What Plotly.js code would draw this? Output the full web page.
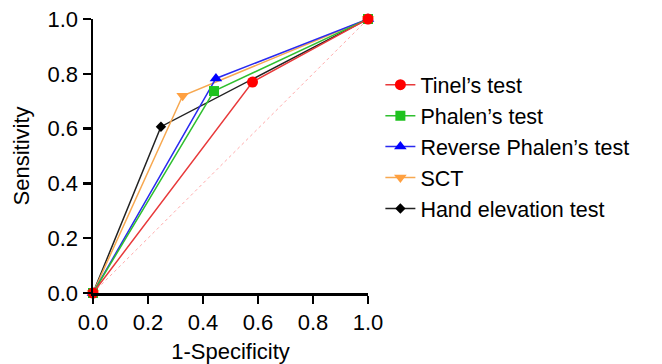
<!DOCTYPE html>
<html>
<head>
<meta charset="utf-8">
<script src="https://cdn.plot.ly/plotly-3.0.1.min.js"></script>
<style>html,body{margin:0;padding:0;background:#fff;}#chart{width:662px;height:364px;}</style>
</head>
<body>
<div id="chart"></div>
<script>
// Series names (legend order)
const seriesNames = ["Tinel\u2019s test", "Phalen\u2019s test", "Reverse Phalen\u2019s test", "SCT", "Hand elevation test"];
// 1-Specificity / Sensitivity of each ROC curve (start, test, end)
const tinelX = [0, 0.58, 1];
const tinelY = [0, 0.77, 1];
const phalenX = [0, 0.44, 1];
const phalenY = [0, 0.737, 1];
const revPhalenX = [0, 0.447, 1];
const revPhalenY = [0, 0.783, 1];
const sctX = [0, 0.326, 1];
const sctY = [0, 0.72, 1];
const handX = [0, 0.247, 1];
const handY = [0, 0.607, 1];
// Reference diagonal
const diagX = [0, 1];
const diagY = [0, 1];
// Tick values / labels
const tickVals = [0, 0.2, 0.4, 0.6, 0.8, 1.0];
const tickText = ["0.0", "0.2", "0.4", "0.6", "0.8", "1.0"];

const styles = [
  {color: "#ff0000", line: "#e8393a", symbol: "circle", size: 11},
  {color: "#1fc21f", line: "#2fbf2f", symbol: "square", size: 10},
  {color: "#0000ff", line: "#2a2af0", symbol: "triangle-up", size: 11},
  {color: "#ffa040", line: "#f7a850", symbol: "triangle-down", size: 11},
  {color: "#000000", line: "#222222", symbol: "diamond", size: 8}
];
const xs = [tinelX, phalenX, revPhalenX, sctX, handX];
const ys = [tinelY, phalenY, revPhalenY, sctY, handY];

const traces = [{
  x: diagX, y: diagY, mode: "lines", showlegend: false, hoverinfo: "skip",
  line: {color: "#ffaaaa", width: 1, dash: "dot"}, cliponaxis: false
}];
for (let i = seriesNames.length - 1; i >= 0; i--) {
  traces.push({
    x: xs[i], y: ys[i], name: seriesNames[i], mode: "lines+markers",
    line: {color: styles[i].line, width: 1.5},
    marker: {color: styles[i].color, symbol: styles[i].symbol, size: styles[i].size},
    cliponaxis: false
  });
}

const FONT = "Liberation Sans, Arial, sans-serif";
const axisCommon = {
  range: [0, 1], tickvals: tickVals, ticktext: tickText,
  showgrid: false, zeroline: false, showline: true, linecolor: "#000", linewidth: 2.5,
  ticks: "outside", ticklen: 8, tickwidth: 2.5, tickcolor: "#000",
  tickfont: {family: FONT, size: 22, color: "#000"},
  fixedrange: true
};

const layout = {
  width: 662, height: 364,
  margin: {l: 93, r: 294, t: 19, b: 71},
  paper_bgcolor: "#fff", plot_bgcolor: "#fff",
  font: {family: FONT, color: "#000"},
  xaxis: Object.assign({}, axisCommon, {
    title: {text: "1-Specificity", font: {size: 22}, standoff: 10}
  }),
  yaxis: Object.assign({}, axisCommon, {
    title: {text: "Sensitivity", font: {size: 22}, standoff: 12}
  }),
  legend: {
    x: 1.045, y: 0.835, xanchor: "left", yanchor: "top",
    traceorder: "reversed",
    font: {size: 21.5, color: "#000"},
    bgcolor: "rgba(0,0,0,0)", itemwidth: 30
  },
  showlegend: true
};

Plotly.newPlot("chart", traces, layout, {displayModeBar: false, staticPlot: true});
</script>
</body>
</html>
